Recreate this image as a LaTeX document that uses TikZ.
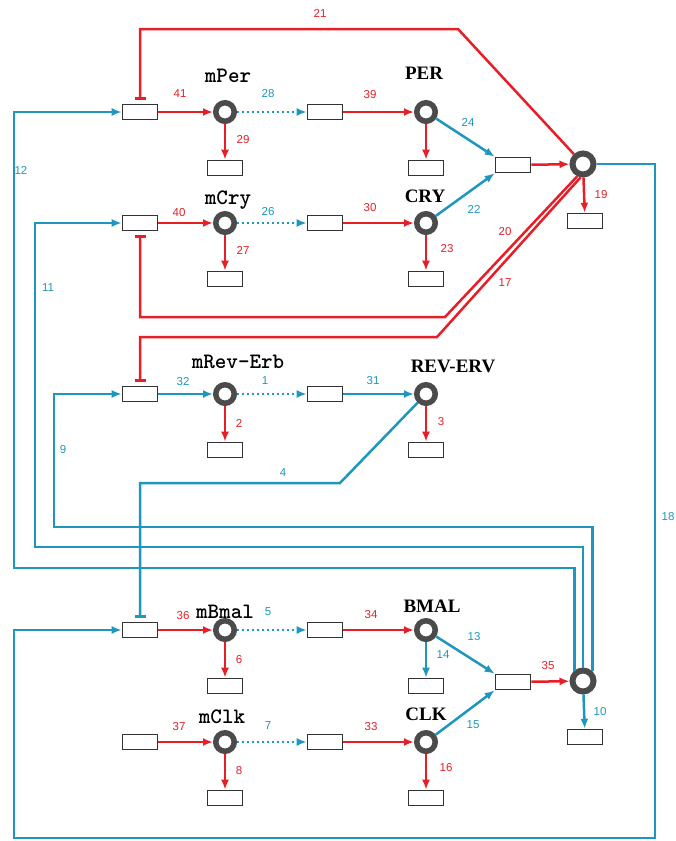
\documentclass[tikz,border=0pt]{standalone}
\usepackage{fontspec}
\setmainfont{Liberation Serif}
\setsansfont{Liberation Sans}
\usepackage{tikz}
\usetikzlibrary{arrows.meta,calc,positioning}

\definecolor{netred}{RGB}{232,30,38}
\definecolor{netcyan}{RGB}{30,150,190}
\definecolor{ringgray}{RGB}{75,75,75}

\begin{document}
\begin{tikzpicture}[x=1pt,y=-1pt,
    site/.style={rectangle, draw=black!80, line width=1.6pt, fill=white, minimum width=35pt, minimum height=15pt, inner sep=0pt},
    pool/.style={circle, draw=ringgray, line width=5.5pt, fill=white, minimum size=18.5pt, inner sep=0pt},
    bigpool/.style={circle, draw=ringgray, line width=6pt, fill=white, minimum size=21pt, inner sep=0pt},
    gene/.style={font=\ttfamily\bfseries\fontsize{22}{22}\selectfont},
    prot/.style={font=\bfseries\fontsize{19}{19}\selectfont},
    nr/.style={font=\sffamily\fontsize{11.5}{11.5}\selectfont, text=netred, inner sep=0pt},
    nc/.style={font=\sffamily\fontsize{11.5}{11.5}\selectfont, text=netcyan, inner sep=0pt},
    redarr/.style={draw=netred, line width=2.5pt, -{Latex[length=10pt,width=8pt]}},
    cyanarr/.style={draw=netcyan, line width=2.5pt, -{Latex[length=10pt,width=8pt]}},
    dotarr/.style={draw=netcyan, line width=2.5pt, dash pattern=on 2pt off 3pt, -{Latex[length=10pt,width=8pt]}},
    redinh/.style={draw=netred, line width=2.5pt, -{Bar[width=11pt]}, shorten >=4pt},
    cyaninh/.style={draw=netcyan, line width=2.5pt, -{Bar[width=11pt]}, shorten >=4pt}]
  \useasboundingbox (0,0) rectangle (676,841);
  % Turning points of the long loops
  \coordinate (k21) at (458,29);
  \coordinate (k20) at (445,317);
  \coordinate (k17) at (437,337);
  \coordinate (k18a) at (655,838);
  \coordinate (k18b) at (14,838);
  \coordinate (k12) at (14,568);
  \coordinate (k11) at (35,547);
  \coordinate (k9) at (54,527);
  \coordinate (k4) at (340,483);

  % Per row
  \node[site] (boxPer) at (140,112) {};
  \node[pool] (mPer) at (225,112) {};
  \node[site] (tlPer) at (325,112) {};
  \node[pool] (PER) at (426,112) {};
  \node[site] (dmPer) at (225,168) {};
  \node[site] (dPER) at (426,168) {};
  % Cry row
  \node[site] (boxCry) at (140,223) {};
  \node[pool] (mCry) at (225,223) {};
  \node[site] (tlCry) at (325,223) {};
  \node[pool] (CRY) at (426,223) {};
  \node[site] (dmCry) at (225,279) {};
  \node[site] (dCRY) at (426,279) {};
  % PER-CRY complex
  \node[site] (boxPC) at (513,165) {};
  \node[bigpool] (PC) at (583,164) {};
  \node[site] (dPC) at (585,221) {};
  % Rev-Erb row
  \node[site] (boxRev) at (140,394) {};
  \node[pool] (mRev) at (225,394) {};
  \node[site] (tlRev) at (325,394) {};
  \node[pool] (REV) at (426,394) {};
  \node[site] (dmRev) at (225,450) {};
  \node[site] (dREV) at (426,450) {};
  % Bmal row
  \node[site] (boxBmal) at (140,630) {};
  \node[pool] (mBmal) at (225,630) {};
  \node[site] (tlBmal) at (325,630) {};
  \node[pool] (BMAL) at (426,630) {};
  \node[site] (dmBmal) at (225,686) {};
  \node[site] (dBMAL) at (426,686) {};
  % Clk row
  \node[site] (boxClk) at (140,742) {};
  \node[pool] (mClk) at (225,742) {};
  \node[site] (tlClk) at (325,742) {};
  \node[pool] (CLK) at (426,742) {};
  \node[site] (dmClk) at (225,798) {};
  \node[site] (dCLK) at (426,798) {};
  % BMAL-CLK complex
  \node[site] (boxBC) at (513,682) {};
  \node[bigpool] (BC) at (583,681) {};
  \node[site] (dBC) at (585,737) {};

  % Names
  \node[gene] (tmPer) at (228,76) {mPer};
  \node[gene] (tmCry) at (228,200) {mCry};
  \node[gene] (tmRev) at (238,362) {mRev-Erb};
  \node[gene] (tmBmal) at (225,612) {mBmal};
  \node[gene] (tmClk) at (222,717) {mClk};
  \node[prot] (tPER) at (424,73) {PER};
  \node[prot] (tCRY) at (425,196) {CRY};
  \node[prot] (tREV) at (453,366) {REV-ERV};
  \node[prot] (tBMAL) at (432,606) {BMAL};
  \node[prot] (tCLK) at (426,714) {CLK};

  % Per / Cry reactions
  \draw[redarr] (boxPer) -- (mPer);
  \draw[dotarr] (mPer) -- (tlPer);
  \draw[redarr] (tlPer) -- (PER);
  \draw[redarr] (mPer) -- (dmPer);
  \draw[redarr] (PER) -- (dPER);
  \draw[redarr] (boxCry) -- (mCry);
  \draw[dotarr] (mCry) -- (tlCry);
  \draw[redarr] (tlCry) -- (CRY);
  \draw[redarr] (mCry) -- (dmCry);
  \draw[redarr] (CRY) -- (dCRY);
  \draw[cyanarr] (PER) -- (boxPC.north west);
  \draw[cyanarr] (CRY) -- (boxPC.south west);
  \draw[redarr] (boxPC) -- (PC);
  \draw[redarr] (PC) -- (dPC);
  % Rev-Erb reactions
  \draw[cyanarr] (boxRev) -- (mRev);
  \draw[dotarr] (mRev) -- (tlRev);
  \draw[cyanarr] (tlRev) -- (REV);
  \draw[redarr] (mRev) -- (dmRev);
  \draw[redarr] (REV) -- (dREV);
  % Bmal / Clk reactions
  \draw[redarr] (boxBmal) -- (mBmal);
  \draw[dotarr] (mBmal) -- (tlBmal);
  \draw[redarr] (tlBmal) -- (BMAL);
  \draw[redarr] (mBmal) -- (dmBmal);
  \draw[cyanarr] (BMAL) -- (dBMAL);
  \draw[redarr] (boxClk) -- (mClk);
  \draw[dotarr] (mClk) -- (tlClk);
  \draw[redarr] (tlClk) -- (CLK);
  \draw[redarr] (mClk) -- (dmClk);
  \draw[redarr] (CLK) -- (dCLK);
  \draw[cyanarr] (BMAL) -- (boxBC.north west);
  \draw[cyanarr] (CLK) -- (boxBC.south west);
  \draw[redarr] (boxBC) -- (BC);
  \draw[cyanarr] (BC) -- (dBC);

  % Feedback loops
  \draw[redinh] (PC) -- (k21) -| (boxPer.north);
  \draw[redinh] (PC.-115) -- (k20) -| (boxCry.south);
  \draw[redinh] (PC.-100) -- (k17) -| (boxRev.north);
  \draw[cyaninh] (REV) -- (k4) -| (boxBmal.north);
  \draw[cyanarr, line width=2.8pt] (PC) -| (k18a) -- (k18b) |- (boxBmal);
  \draw[cyanarr, line width=2.8pt] (BC.130) |- (k12) |- (boxPer);
  \draw[cyanarr] (BC.north) |- (k11) |- (boxCry);
  \draw[cyanarr] (BC.46) |- (k9) |- (boxRev);

  % Reaction numbers
  \node[nr] (n41) at (180,94) {41};
  \node[nc] (n28) at (268,94) {28};
  \node[nr] (n39) at (370,95) {39};
  \node[nr] (n29) at (243,140) {29};
  \node[nc] (n24) at (468,122) {24};
  \node[nc] (n22) at (474,209) {22};
  \node[nr] (n21) at (320,13) {21};
  \node[nr] (n19) at (601,195) {19};
  \node[nc] (n12) at (21,170) {12};
  \node[nr] (n40) at (179,213) {40};
  \node[nc] (n26) at (268,212) {26};
  \node[nr] (n30) at (370,208) {30};
  \node[nr] (n27) at (243,250) {27};
  \node[nr] (n23) at (447,249) {23};
  \node[nr] (n20) at (505,232) {20};
  \node[nr] (n17) at (505,283) {17};
  \node[nc] (n11) at (48,288) {11};
  \node[nc] (n32) at (183,382) {32};
  \node[nc] (n1) at (265,381) {1};
  \node[nc] (n31) at (373,381) {31};
  \node[nr] (n2) at (239,423) {2};
  \node[nr] (n3) at (441,422) {3};
  \node[nc] (n9) at (63,450) {9};
  \node[nc] (n4) at (283,473) {4};
  \node[nc] (n18) at (668,517) {18};
  \node[nr] (n36) at (183,616) {36};
  \node[nc] (n5) at (268,612) {5};
  \node[nr] (n34) at (371,615) {34};
  \node[nr] (n6) at (239,660) {6};
  \node[nc] (n14) at (443,655) {14};
  \node[nc] (n13) at (474,637) {13};
  \node[nr] (n35) at (548,666) {35};
  \node[nc] (n10) at (600,712) {10};
  \node[nr] (n37) at (179,727) {37};
  \node[nc] (n7) at (268,726) {7};
  \node[nr] (n33) at (371,727) {33};
  \node[nr] (n8) at (239,771) {8};
  \node[nr] (n16) at (446,768) {16};
  \node[nc] (n15) at (473,725) {15};
\end{tikzpicture}
\end{document}
